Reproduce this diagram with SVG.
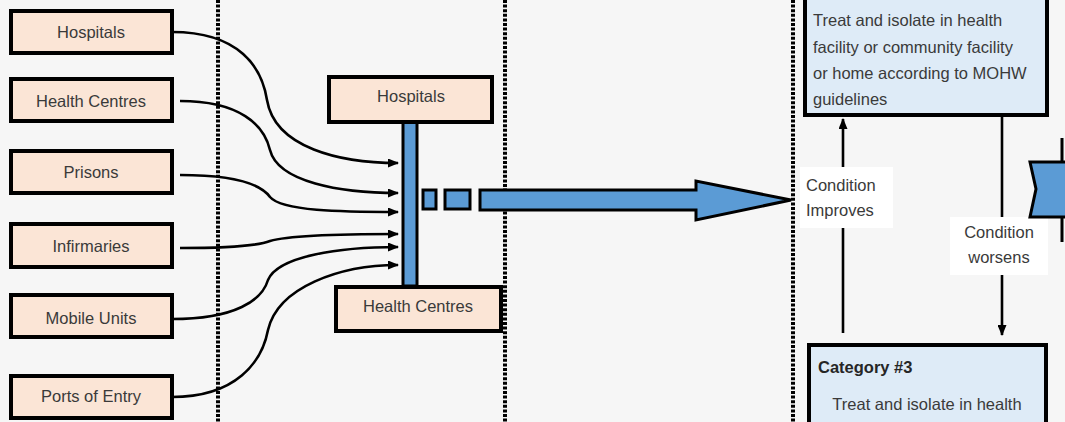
<svg xmlns="http://www.w3.org/2000/svg" width="1065" height="422" viewBox="0 0 1065 422">
<defs>
<style>
.bg{fill:#f6f6f6}
.src{fill:#fbe5d6;stroke:#000;stroke-width:4}
.cat{fill:#deebf7;stroke:#000;stroke-width:4}
.blue{fill:#5b9bd5;stroke:#000;stroke-width:3}
.t{font-family:"Liberation Sans",Arial,sans-serif;font-size:16.5px;fill:#3a3a3a}
.c{text-anchor:middle}
.b{font-weight:bold;fill:#262626}
.dot{stroke:#000;stroke-width:4;stroke-dasharray:3 1.6;fill:none}
.con{stroke:#000;stroke-width:2.6;fill:none}
.lab{fill:#ffffff}
</style>
<marker id="ah" viewBox="0 0 11 9" refX="10" refY="4.5" markerWidth="11" markerHeight="9" markerUnits="userSpaceOnUse" orient="auto">
<path d="M0,0 L11,4.5 L0,9 z" fill="#000"/>
</marker>
</defs>
<rect class="bg" x="0" y="0" width="1065" height="422"/>

<g id="dividers">
<line class="dot" x1="218" y1="0" x2="218" y2="422"/>
<line class="dot" x1="505" y1="0" x2="505" y2="422"/>
<line class="dot" x1="793" y1="0" x2="793" y2="422"/>
</g>

<g id="src-hospitals"><rect class="src" x="11" y="11" width="161" height="42"/><text class="t c" x="91" y="38">Hospitals</text></g>
<g id="src-health-centres"><rect class="src" x="11" y="79" width="161" height="42"/><text class="t c" x="91" y="107">Health Centres</text></g>
<g id="src-prisons"><rect class="src" x="11" y="151" width="161" height="42"/><text class="t c" x="91" y="178">Prisons</text></g>
<g id="src-infirmaries"><rect class="src" x="11" y="224" width="161" height="43"/><text class="t c" x="91" y="252">Infirmaries</text></g>
<g id="src-mobile-units"><rect class="src" x="11" y="295" width="161" height="42"/><text class="t c" x="91" y="324">Mobile Units</text></g>
<g id="src-ports"><rect class="src" x="11" y="376" width="161" height="42"/><text class="t c" x="91" y="402">Ports of Entry</text></g>

<g id="connectors">
<path class="con" marker-end="url(#ah)" d="M172,32 C240,32 262,68 267,100 C275,148 340,163 398,163"/>
<path class="con" marker-end="url(#ah)" d="M180,101 C240,101 264,125 270,150 C278,182 340,193 398,193"/>
<path class="con" marker-end="url(#ah)" d="M180,175 C240,175 262,186 270,197 C282,211 340,212 398,212"/>
<path class="con" marker-end="url(#ah)" d="M180,248 C240,248 260,245 270,241 C290,235 340,234 398,234"/>
<path class="con" marker-end="url(#ah)" d="M172,319 C236,319 262,300 268,280 C278,256 340,247 398,247"/>
<path class="con" marker-end="url(#ah)" d="M172,397 C236,397 262,362 268,330 C278,287 340,265 398,265"/>
<line class="con" x1="843" y1="333" x2="843" y2="119" marker-end="url(#ah)"/>
<line class="con" x1="1002" y1="117" x2="1002" y2="335" marker-end="url(#ah)"/>
</g>

<g id="collector">
<rect class="blue" x="403" y="122" width="14" height="164"/>
<rect class="blue" x="423" y="190" width="13" height="19"/>
<rect class="blue" x="445" y="190" width="25" height="19"/>
<path class="blue" d="M480,190 L696,190 L696,181 L791,200 L696,220 L696,210 L480,210 Z"/>
</g>

<g id="mid-hospitals"><rect class="src" x="329" y="77" width="163" height="45"/><text class="t c" x="411" y="102">Hospitals</text></g>
<g id="mid-health-centres"><rect class="src" x="336" y="287" width="165" height="44"/><text class="t c" x="418" y="312">Health Centres</text></g>

<g id="category-2">
<rect class="cat" x="805" y="-6" width="242" height="121"/>
<text class="t" x="813" y="26">Treat and isolate in health</text>
<text class="t" x="813" y="53">facility or community facility</text>
<text class="t" x="813" y="79">or home according to MOHW</text>
<text class="t" x="813" y="105">guidelines</text>
</g>

<g id="label-improves">
<rect class="lab" x="800" y="167" width="93" height="61"/>
<text class="t" x="806" y="191">Condition</text>
<text class="t" x="806" y="216">Improves</text>
</g>

<g id="label-worsens">
<rect class="lab" x="950" y="217" width="98" height="58"/>
<text class="t c" x="999" y="238">Condition</text>
<text class="t c" x="999" y="263">worsens</text>
</g>

<g id="category-3">
<rect class="cat" x="809" y="345" width="237" height="90"/>
<text class="t b" x="818" y="373">Category #3</text>
<text class="t c" x="927" y="410">Treat and isolate in health</text>
</g>

<g id="next-step">
<line x1="1062" y1="138" x2="1062" y2="242" stroke="#000" stroke-width="3"/>
<path class="blue" d="M1030,162 L1068,162 L1068,217 L1030,217 L1036,189 Z"/>
</g>
</svg>
